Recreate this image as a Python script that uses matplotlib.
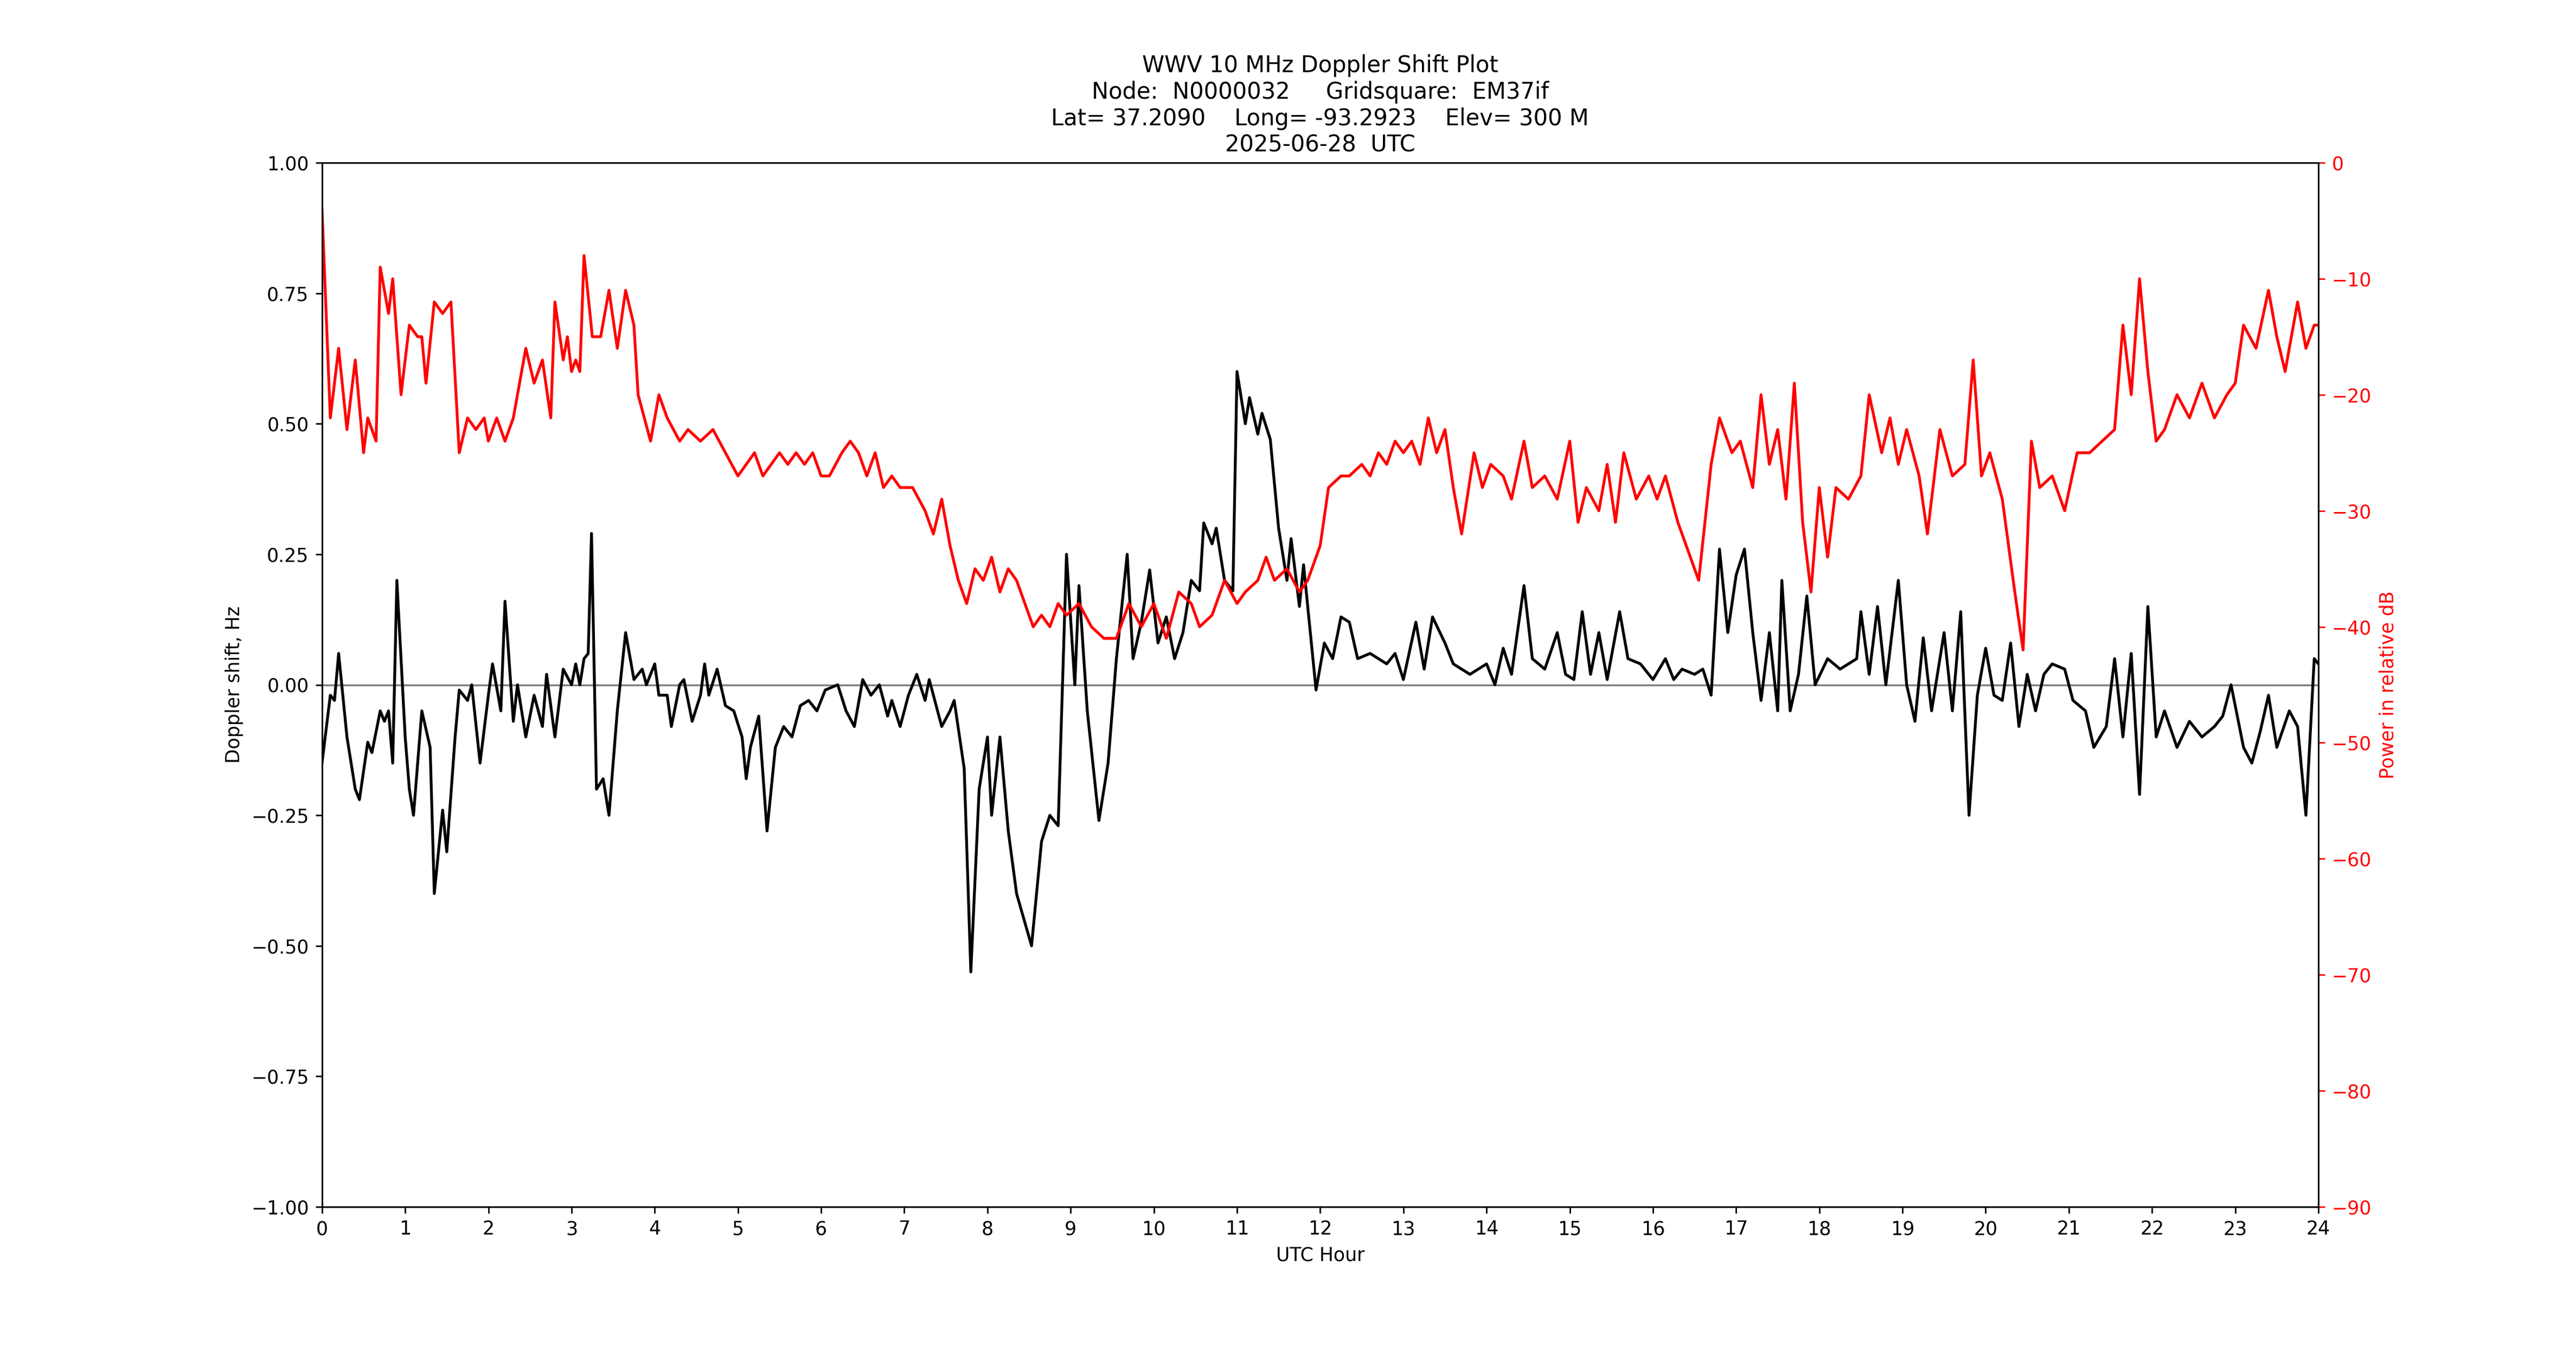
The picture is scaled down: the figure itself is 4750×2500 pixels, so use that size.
import matplotlib
matplotlib.use("Agg")
import matplotlib.pyplot as plt

dop_t = [0,0.1,0.15,0.2,0.3,0.4,0.45,0.55,0.6,0.7,0.75,0.8,0.85,0.9,1.0,1.05,1.1,1.2,1.3,1.35,1.45,1.5,1.6,1.65,1.75,1.8,1.9,2.0,2.05,2.15,2.2,2.3,2.35,2.45,2.55,2.65,2.7,2.8,2.9,3.0,3.05,3.1,3.15,3.2,3.24,3.3,3.38,3.45,3.55,3.65,3.75,3.85,3.9,4.0,4.05,4.15,4.2,4.3,4.35,4.45,4.55,4.6,4.65,4.75,4.85,4.95,5.05,5.1,5.15,5.25,5.35,5.45,5.55,5.65,5.75,5.85,5.95,6.05,6.2,6.3,6.4,6.5,6.6,6.7,6.8,6.85,6.95,7.05,7.15,7.25,7.3,7.45,7.55,7.6,7.72,7.8,7.9,8.0,8.05,8.15,8.25,8.35,8.53,8.65,8.75,8.85,8.95,9.05,9.1,9.2,9.34,9.45,9.55,9.68,9.75,9.85,9.95,10.05,10.15,10.25,10.35,10.45,10.55,10.6,10.7,10.75,10.85,10.95,11.0,11.1,11.15,11.25,11.3,11.4,11.5,11.6,11.65,11.75,11.8,11.95,12.05,12.15,12.25,12.35,12.45,12.6,12.8,12.9,13.0,13.15,13.25,13.35,13.5,13.6,13.8,14.0,14.1,14.2,14.3,14.45,14.55,14.7,14.85,14.95,15.05,15.15,15.25,15.35,15.45,15.6,15.7,15.85,16.0,16.15,16.25,16.35,16.5,16.6,16.7,16.8,16.9,17.0,17.1,17.2,17.3,17.4,17.5,17.55,17.65,17.75,17.85,17.95,18.1,18.25,18.45,18.5,18.6,18.7,18.8,18.95,19.05,19.15,19.25,19.35,19.5,19.6,19.7,19.8,19.9,20.0,20.1,20.2,20.3,20.4,20.5,20.6,20.7,20.8,20.95,21.05,21.2,21.3,21.45,21.55,21.65,21.75,21.85,21.95,22.05,22.15,22.3,22.45,22.6,22.75,22.85,22.95,23.1,23.2,23.3,23.4,23.5,23.65,23.75,23.85,23.95,24.0]
dop_v = [-0.15,-0.02,-0.03,0.06,-0.1,-0.2,-0.22,-0.11,-0.13,-0.05,-0.07,-0.05,-0.15,0.2,-0.1,-0.2,-0.25,-0.05,-0.12,-0.4,-0.24,-0.32,-0.1,-0.01,-0.03,0.0,-0.15,-0.02,0.04,-0.05,0.16,-0.07,0.0,-0.1,-0.02,-0.08,0.02,-0.1,0.03,0.0,0.04,0.0,0.05,0.06,0.29,-0.2,-0.18,-0.25,-0.05,0.1,0.01,0.03,0.0,0.04,-0.02,-0.02,-0.08,0.0,0.01,-0.07,-0.02,0.04,-0.02,0.03,-0.04,-0.05,-0.1,-0.18,-0.12,-0.06,-0.28,-0.12,-0.08,-0.1,-0.04,-0.03,-0.05,-0.01,0.0,-0.05,-0.08,0.01,-0.02,0.0,-0.06,-0.03,-0.08,-0.02,0.02,-0.03,0.01,-0.08,-0.05,-0.03,-0.16,-0.55,-0.2,-0.1,-0.25,-0.1,-0.28,-0.4,-0.5,-0.3,-0.25,-0.27,0.25,0.0,0.19,-0.05,-0.26,-0.15,0.05,0.25,0.05,0.12,0.22,0.08,0.13,0.05,0.1,0.2,0.18,0.31,0.27,0.3,0.2,0.18,0.6,0.5,0.55,0.48,0.52,0.47,0.3,0.2,0.28,0.15,0.23,-0.01,0.08,0.05,0.13,0.12,0.05,0.06,0.04,0.06,0.01,0.12,0.03,0.13,0.08,0.04,0.02,0.04,0.0,0.07,0.02,0.19,0.05,0.03,0.1,0.02,0.01,0.14,0.02,0.1,0.01,0.14,0.05,0.04,0.01,0.05,0.01,0.03,0.02,0.03,-0.02,0.26,0.1,0.21,0.26,0.1,-0.03,0.1,-0.05,0.2,-0.05,0.02,0.17,0.0,0.05,0.03,0.05,0.14,0.02,0.15,0.0,0.2,0.0,-0.07,0.09,-0.05,0.1,-0.05,0.14,-0.25,-0.02,0.07,-0.02,-0.03,0.08,-0.08,0.02,-0.05,0.02,0.04,0.03,-0.03,-0.05,-0.12,-0.08,0.05,-0.1,0.06,-0.21,0.15,-0.1,-0.05,-0.12,-0.07,-0.1,-0.08,-0.06,0.0,-0.12,-0.15,-0.09,-0.02,-0.12,-0.05,-0.08,-0.25,0.05,0.04]

pwr_t = [0,0.1,0.2,0.3,0.4,0.5,0.55,0.65,0.7,0.8,0.85,0.95,1.05,1.15,1.2,1.25,1.35,1.45,1.55,1.65,1.75,1.85,1.95,2.0,2.1,2.2,2.3,2.45,2.55,2.65,2.75,2.8,2.9,2.95,3.0,3.05,3.1,3.15,3.25,3.35,3.45,3.55,3.65,3.75,3.8,3.95,4.05,4.15,4.3,4.4,4.55,4.7,4.85,5.0,5.1,5.2,5.3,5.4,5.5,5.6,5.7,5.8,5.9,6.0,6.1,6.25,6.35,6.45,6.55,6.65,6.75,6.85,6.95,7.1,7.25,7.35,7.45,7.55,7.65,7.75,7.85,7.95,8.05,8.15,8.25,8.35,8.45,8.55,8.65,8.75,8.85,8.95,9.1,9.25,9.4,9.55,9.7,9.85,10.0,10.15,10.3,10.45,10.55,10.7,10.85,11.0,11.1,11.25,11.35,11.45,11.6,11.75,11.85,12.0,12.1,12.25,12.35,12.5,12.6,12.7,12.8,12.9,13.0,13.1,13.2,13.3,13.4,13.5,13.6,13.7,13.85,13.95,14.05,14.2,14.3,14.45,14.55,14.7,14.85,15.0,15.1,15.2,15.35,15.45,15.55,15.65,15.8,15.95,16.05,16.15,16.3,16.4,16.55,16.7,16.8,16.95,17.05,17.2,17.3,17.4,17.5,17.6,17.7,17.8,17.9,18.0,18.1,18.2,18.35,18.5,18.6,18.75,18.85,18.95,19.05,19.2,19.3,19.45,19.6,19.75,19.85,19.95,20.05,20.2,20.35,20.45,20.55,20.65,20.8,20.95,21.1,21.25,21.4,21.55,21.65,21.75,21.85,21.95,22.05,22.15,22.3,22.45,22.6,22.75,22.9,23.0,23.1,23.25,23.4,23.5,23.6,23.75,23.85,23.95,24.0]
pwr_v = [-4,-22,-16,-23,-17,-25,-22,-24,-9,-13,-10,-20,-14,-15,-15,-19,-12,-13,-12,-25,-22,-23,-22,-24,-22,-24,-22,-16,-19,-17,-22,-12,-17,-15,-18,-17,-18,-8,-15,-15,-11,-16,-11,-14,-20,-24,-20,-22,-24,-23,-24,-23,-25,-27,-26,-25,-27,-26,-25,-26,-25,-26,-25,-27,-27,-25,-24,-25,-27,-25,-28,-27,-28,-28,-30,-32,-29,-33,-36,-38,-35,-36,-34,-37,-35,-36,-38,-40,-39,-40,-38,-39,-38,-40,-41,-41,-38,-40,-38,-41,-37,-38,-40,-39,-36,-38,-37,-36,-34,-36,-35,-37,-36,-33,-28,-27,-27,-26,-27,-25,-26,-24,-25,-24,-26,-22,-25,-23,-28,-32,-25,-28,-26,-27,-29,-24,-28,-27,-29,-24,-31,-28,-30,-26,-31,-25,-29,-27,-29,-27,-31,-33,-36,-26,-22,-25,-24,-28,-20,-26,-23,-29,-19,-31,-37,-28,-34,-28,-29,-27,-20,-25,-22,-26,-23,-27,-32,-23,-27,-26,-17,-27,-25,-29,-37,-42,-24,-28,-27,-30,-25,-25,-24,-23,-14,-20,-10,-18,-24,-23,-20,-22,-19,-22,-20,-19,-14,-16,-11,-15,-18,-12,-16,-14,-14]

title_lines = ["WWV 10 MHz Doppler Shift Plot",
               "Node:  N0000032     Gridsquare:  EM37if",
               "Lat= 37.2090    Long= -93.2923    Elev= 300 M",
               "2025-06-28  UTC"]

fig, ax = plt.subplots(figsize=(19, 10), dpi=250)
ax.axhline(0, color="gray", lw=1)
ax.plot(dop_t, dop_v, color="black", lw=1.5)
ax.set_xlim(0, 24)
ax.set_ylim(-1, 1)
ax.set_xticks(range(25))
ax.set_xlabel("UTC Hour")
ax.set_ylabel("Doppler shift, Hz")
ax.set_title("\n".join(title_lines))

ax2 = ax.twinx()
ax2.plot(pwr_t, pwr_v, color="red", lw=1.5)
ax2.set_ylim(-90, 0)
ax2.set_ylabel("Power in relative dB", color="red")
ax2.tick_params(axis="y", colors="red")

fig.savefig("out.png")
